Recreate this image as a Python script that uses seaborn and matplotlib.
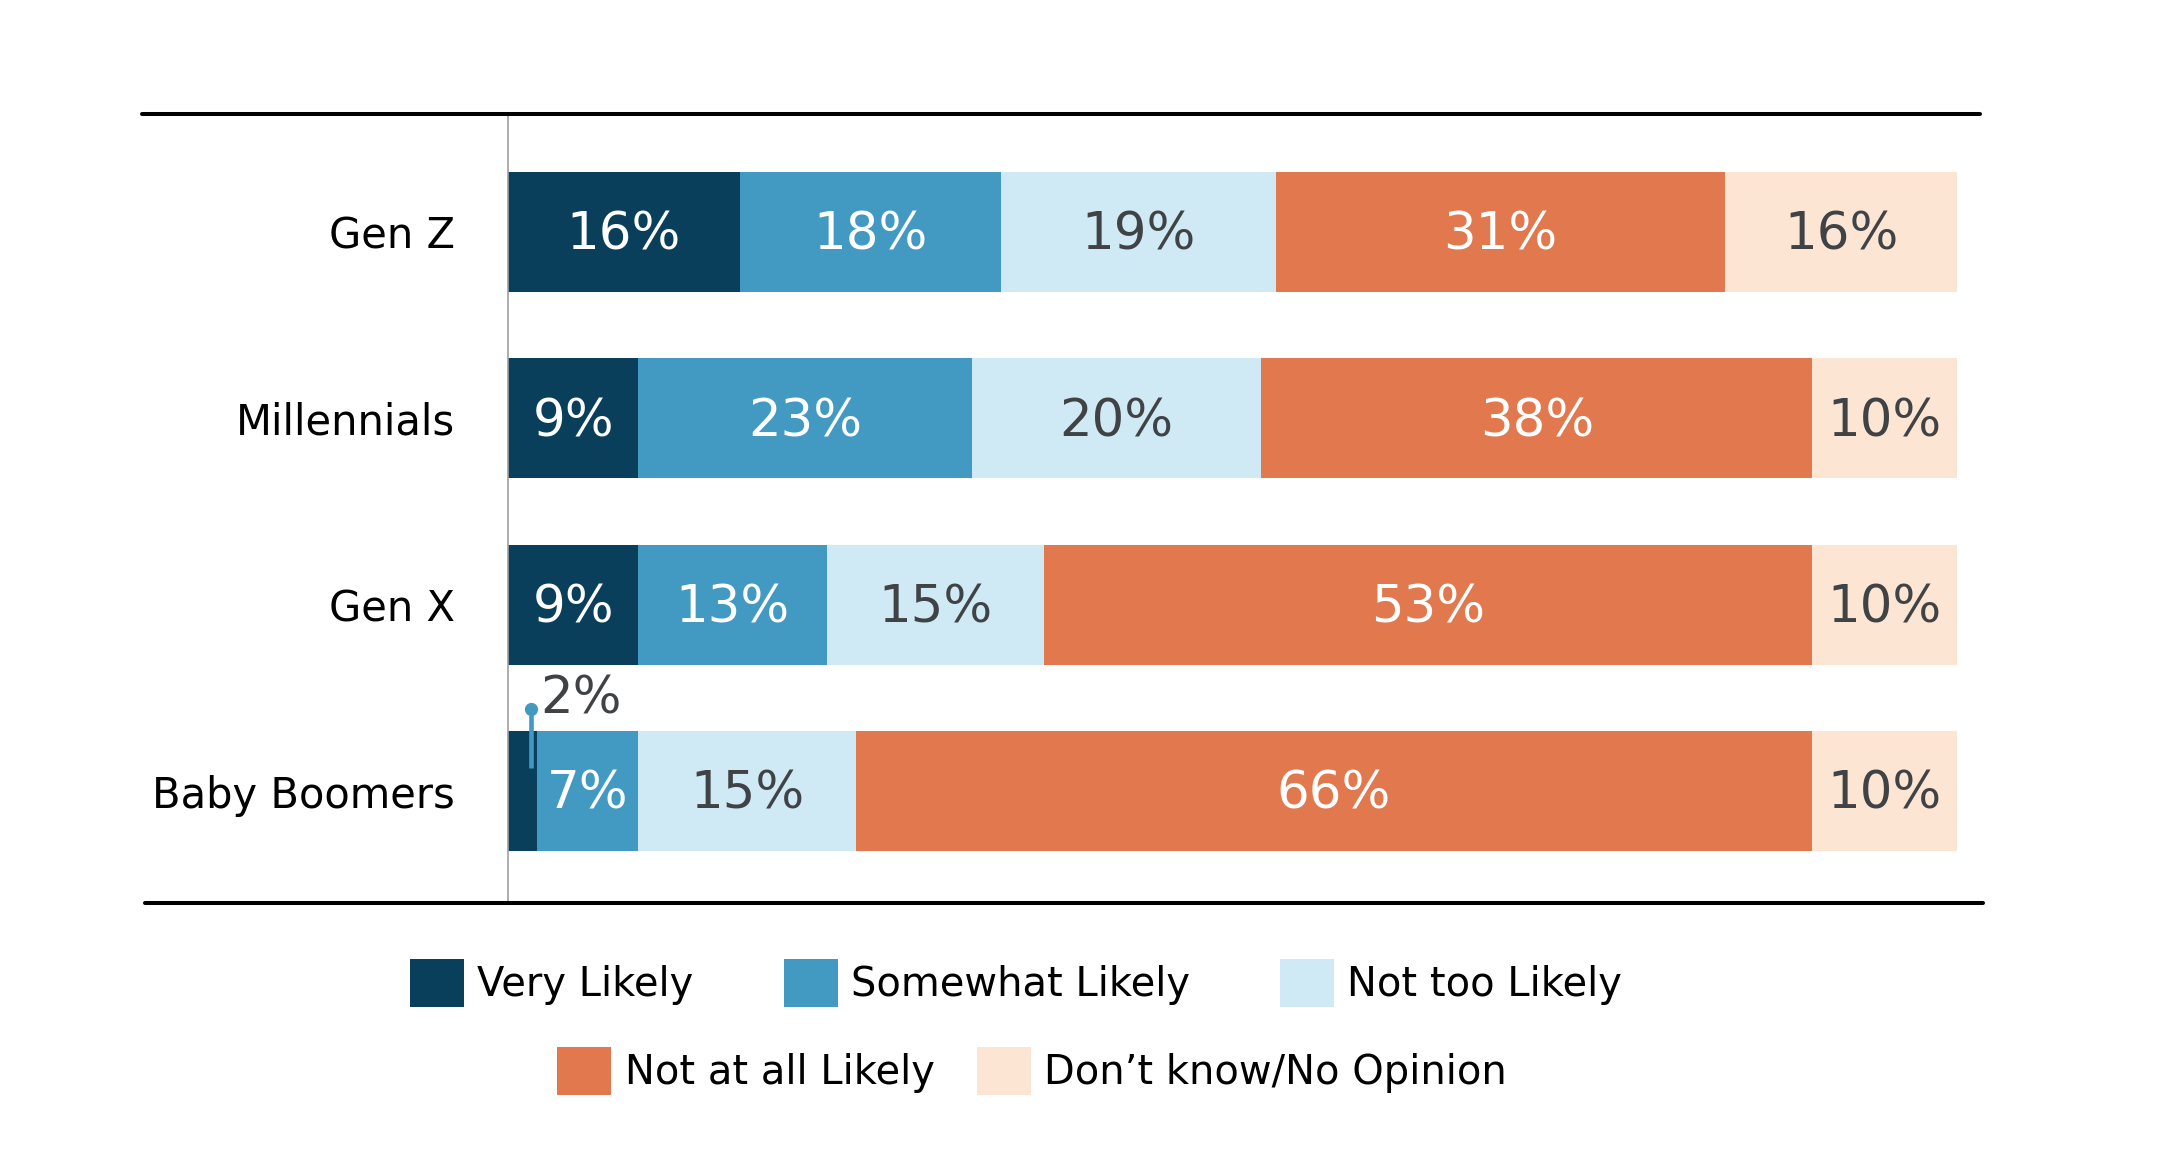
import matplotlib
matplotlib.use("Agg")
import matplotlib.pyplot as plt
from matplotlib.patches import Patch
from matplotlib.lines import Line2D
import numpy as np
import seaborn as sns

# Data
groups = ["Gen Z", "Millennials", "Gen X", "Baby Boomers"]
answers = ["Very Likely", "Somewhat Likely", "Not too Likely",
           "Not at all Likely", "Don\u2019t know/No Opinion"]
very_likely = [16, 9, 9, 2]
somewhat_likely = [18, 23, 13, 7]
not_too_likely = [19, 20, 15, 15]
not_at_all_likely = [31, 38, 53, 66]
dont_know = [16, 10, 10, 10]

colors = ["#0A3F5C", "#429AC3", "#CFEAF5", "#E1784E", "#FDE5D3"]
text_colors = ["white", "white", "#404346", "white", "#404346"]

series = np.array([very_likely, somewhat_likely, not_too_likely,
                   not_at_all_likely, dont_know])
cum = series.cumsum(axis=0)

sns.set_style("white")
plt.rcParams["font.family"] = ["DejaVu Sans"]

W, H = 2158, 1174
fig = plt.figure(figsize=(W / 100, H / 100), dpi=100)
ax = fig.add_axes([508 / W, 1 - 903 / H, (1957 - 508) / W, (903 - 114) / H])

# Stacked bars: draw cumulative totals from the longest down
for i in reversed(range(len(answers))):
    sns.barplot(x=cum[i], y=groups, orient="h", color=colors[i],
                saturation=1, width=0.644, linewidth=0, errorbar=None, ax=ax)

# Segment labels
for i in range(len(answers)):
    for j in range(len(groups)):
        v = series[i, j]
        if v < 5:
            continue
        ax.text(cum[i, j] - v / 2, j + 0.02, f"{v}%", ha="center", va="center",
                fontsize=37, color=text_colors[i])

# Callout for the small Baby Boomers value
bb = groups.index("Baby Boomers")
ax.plot([1.56, 1.56], [bb - 0.44, bb - 0.123], color=colors[1], lw=3.3,
        solid_capstyle="butt", zorder=5)
ax.plot([1.56], [bb - 0.44], "o", color=colors[1], markersize=8.5, zorder=6)
ax.text(2.2, bb - 0.49, f"{very_likely[bb]}%", ha="left", va="center",
        fontsize=37, color="#404346")

ax.set_xlim(0, 100)
ax.set_ylim(3.60, -0.633)
ax.set_xlabel("")
ax.set_ylabel("")
ax.set_xticks([])
ax.tick_params(axis="y", length=0, pad=38, labelsize=30, labelcolor="black")
for s in ["top", "right", "bottom"]:
    ax.spines[s].set_visible(False)
ax.spines["left"].set_color("#A0A0A0")
ax.spines["left"].set_linewidth(1.2)

# Black rules above and below the chart
fig.add_artist(Line2D([142 / W, 1980 / W], [1 - 114 / H, 1 - 114 / H],
                      color="black", lw=2.9))
fig.add_artist(Line2D([145 / W, 1983 / W], [1 - 903 / H, 1 - 903 / H],
                      color="black", lw=2.9))

# Legend in two centred rows
handles = [Patch(facecolor=c, edgecolor="none") for c in colors]
common = dict(frameon=False, fontsize=28.8, handlelength=1.35,
              handleheight=1.46, handletextpad=0.33, borderpad=0,
              loc="center", labelcolor="black")
fig.legend(handles[:3], answers[:3], ncol=3, columnspacing=2.25,
           bbox_to_anchor=(1016 / W, 1 - 983 / H), **common)
fig.legend(handles[3:], answers[3:], ncol=2, columnspacing=1.05,
           bbox_to_anchor=(1032 / W, 1 - 1071 / H), **common)

fig.savefig("out.png", dpi=100)
